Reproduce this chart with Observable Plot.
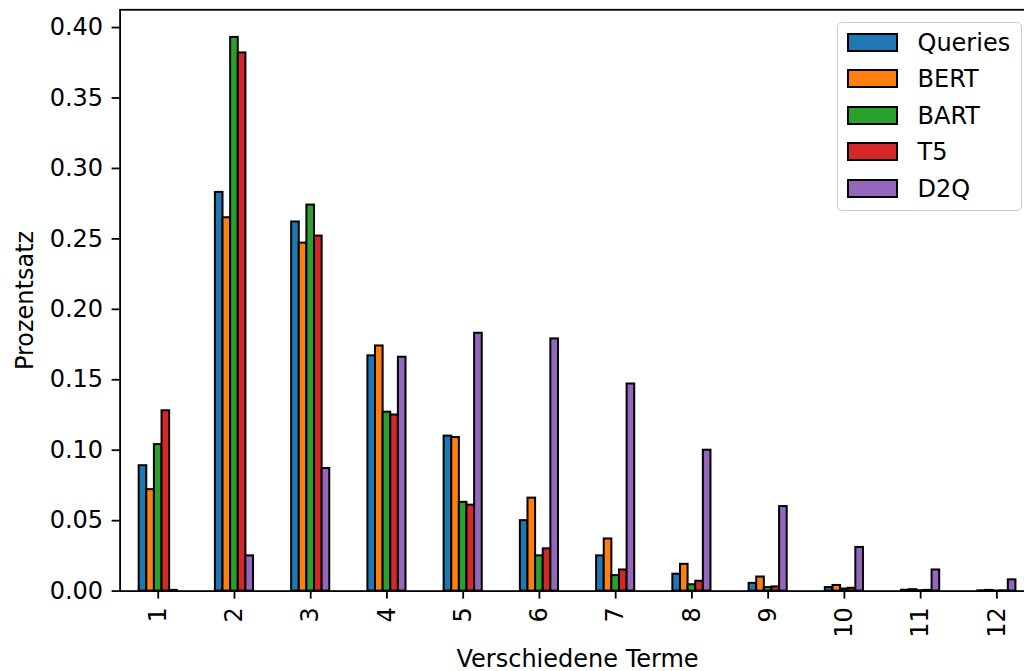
<!DOCTYPE html>
<html>
<head>
<meta charset="utf-8">
<script src="https://cdn.jsdelivr.net/npm/d3@7"></script>
<script src="https://cdn.jsdelivr.net/npm/@observablehq/plot@0.6"></script>
<style>
  html, body { margin: 0; padding: 0; background: #fff; overflow: hidden; }
  #wrap { position: relative; width: 1024px; height: 671px; overflow: hidden; font-family: "DejaVu Sans", sans-serif; }
  #wrap svg { max-width: none !important; width: 1040px !important; height: 671px !important; display: block; }
  #legend { position: absolute; left: 836.5px; top: 22px; width: 185px; height: 189px; border: 1.2px solid #cccccc; border-radius: 5px; background: rgba(255,255,255,0.8); box-sizing: border-box; }
  .sw { position: absolute; left: 9px; width: 51px; height: 19px; border: 2px solid #000; box-sizing: border-box; }
  .lt { position: absolute; left: 80px; font-size: 24px; line-height: 24px; color: #000; white-space: nowrap; }
</style>
</head>
<body>
<div id="wrap"><div id="legend"></div></div>
<script>
// ---- data ----
const categories = [1, 2, 3, 4, 5, 6, 7, 8, 9, 10, 11, 12];
const seriesNames = ["Queries", "BERT", "BART", "T5", "D2Q"];
const queries = [0.089, 0.283, 0.262, 0.167, 0.110, 0.050, 0.025, 0.012, 0.0055, 0.0025, 0.0006, 0.0002];
const bert    = [0.072, 0.265, 0.247, 0.174, 0.109, 0.066, 0.037, 0.019, 0.0100, 0.0040, 0.0010, 0.0005];
const bart    = [0.104, 0.393, 0.274, 0.127, 0.063, 0.025, 0.011, 0.0045, 0.0025, 0.0015, 0.0003, 0.0001];
const t5      = [0.128, 0.382, 0.252, 0.125, 0.061, 0.030, 0.015, 0.007, 0.0030, 0.0020, 0.0005, 0.0002];
const d2q     = [0.0005, 0.025, 0.087, 0.166, 0.183, 0.179, 0.147, 0.100, 0.060, 0.031, 0.015, 0.008];
const yTicks  = [0, 0.05, 0.10, 0.15, 0.20, 0.25, 0.30, 0.35, 0.40];
const colors  = ["#1f77b4", "#ff7f0e", "#2ca02c", "#d62728", "#9467bd"];
const xLabel = "Verschiedene Terme";
const yLabel = "Prozentsatz";

const seriesValues = [queries, bert, bart, t5, d2q];
const rows = [];
seriesNames.forEach((s, i) => {
  categories.forEach((c, j) => rows.push({cat: c, series: s, idx: i, value: seriesValues[i][j]}));
});
const groupWidth = 0.5, n = seriesNames.length, bw = groupWidth / n;

const chart = Plot.plot({
  width: 1040,
  height: 671,
  marginLeft: 119.6,
  marginRight: 5.5,
  marginTop: 9.3,
  marginBottom: 80.4,
  style: {fontFamily: "DejaVu Sans, sans-serif", fontSize: "24px", color: "#000", background: "transparent", overflow: "visible", maxWidth: "none"},
  x: {type: "linear", domain: [0.5, 12.5]},
  y: {domain: [0, 0.4126]},
  color: {domain: seriesNames, range: colors},
  marks: [
    Plot.rect(rows, {
      x1: d => d.cat - groupWidth / 2 + d.idx * bw,
      x2: d => d.cat - groupWidth / 2 + (d.idx + 1) * bw,
      y1: 0,
      y2: "value",
      fill: "series",
      stroke: "#000",
      strokeWidth: 2,
      inset: 0
    }),
    Plot.frame({stroke: "#000", strokeWidth: 1.8}),
    Plot.axisY({ticks: yTicks, tickFormat: d3.format(".2f"), tickSize: 8, tickPadding: 9, strokeWidth: 1.8,
      label: yLabel, labelAnchor: "center", labelArrow: "none", labelOffset: 104.6}),
    Plot.axisX({ticks: categories, tickFormat: d => String(d), tickSize: 8, tickPadding: 8, tickRotate: -90, strokeWidth: 1.8,
      label: xLabel, labelAnchor: "center", labelArrow: "none", labelOffset: 76})
  ]
});
const wrap = document.getElementById("wrap");
wrap.insertBefore(chart, wrap.firstChild);

// legend
const legend = document.getElementById("legend");
const pitch = 36.5;
seriesNames.forEach((s, i) => {
  const sw = document.createElement("div");
  sw.className = "sw";
  sw.style.top = (9.5 + i * pitch) + "px";
  sw.style.background = colors[i];
  legend.appendChild(sw);
  const t = document.createElement("div");
  t.className = "lt";
  t.style.top = (7.8 + i * pitch) + "px";
  t.textContent = s;
  legend.appendChild(t);
});
</script>
</body>
</html>
